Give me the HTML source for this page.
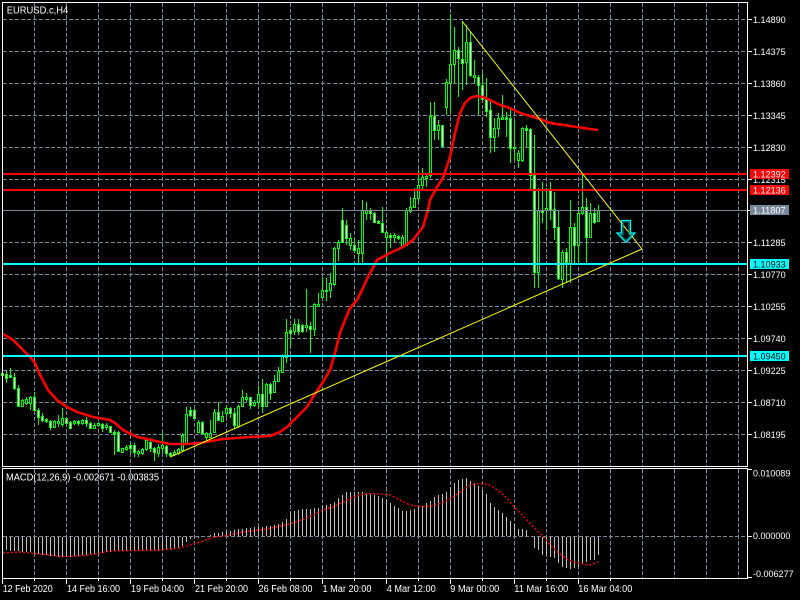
<!DOCTYPE html>
<html><head><meta charset="utf-8"><style>
html,body{margin:0;padding:0;background:#000;width:800px;height:600px;overflow:hidden}
svg{display:block}
text{font-family:"Liberation Sans",sans-serif}
</style></head><body>
<svg width="800" height="600" viewBox="0 0 800 600" xmlns="http://www.w3.org/2000/svg">
<rect width="800" height="600" fill="#000"/>
<!-- grid -->
<g stroke="#778899" stroke-width="1" stroke-dasharray="4 2" fill="none" shape-rendering="crispEdges">
<path d="M34.5 3V466M66.5 3V466M98.5 3V466M130.5 3V466M162.5 3V466M194.5 3V466M226.5 3V466M258.5 3V466M290.5 3V466M322.5 3V466M354.5 3V466M386.5 3V466M418.5 3V466M450.5 3V466M482.5 3V466M514.5 3V466M546.5 3V466M578.5 3V466M610.5 3V466M642.5 3V466M674.5 3V466M706.5 3V466M738.5 3V466"/>
<path d="M34.5 469V578M66.5 469V578M98.5 469V578M130.5 469V578M162.5 469V578M194.5 469V578M226.5 469V578M258.5 469V578M290.5 469V578M322.5 469V578M354.5 469V578M386.5 469V578M418.5 469V578M450.5 469V578M482.5 469V578M514.5 469V578M546.5 469V578M578.5 469V578M610.5 469V578M642.5 469V578M674.5 469V578M706.5 469V578M738.5 469V578"/>
<path d="M3 19.5H747M3 51.5H747M3 83.5H747M3 115.5H747M3 147.5H747M3 179.5H747M3 210.5H747M3 242.5H747M3 274.5H747M3 306.5H747M3 338.5H747M3 370.5H747M3 402.5H747M3 434.5H747"/>
<path d="M3 536.5H747"/>
</g>
<!-- candle wicks -->
<path fill="none" stroke="#00ff00" stroke-width="1" shape-rendering="crispEdges" d="M2.5 372V376M6.5 370V383M10.5 368V378M14.5 373V390M18.5 385V407M22.5 399V407M26.5 397V405M30.5 396V410M34.5 392V410M38.5 408V425M42.5 413V422M46.5 418V423M50.5 420V430M54.5 420V428M58.5 415V427M62.5 408V427M66.5 417V424M70.5 421V429M74.5 420V425M78.5 420V426M82.5 419V425M86.5 417V427M90.5 422V429M94.5 423V429M98.5 422V427M102.5 423V432M106.5 423V430M110.5 426V433M114.5 430V455M118.5 431V452M122.5 448V453M126.5 445V451M130.5 442V453M134.5 443V457M138.5 450V457M142.5 448V455M146.5 438V451M150.5 438V452M154.5 447V461M158.5 444V457M162.5 433V453M166.5 445V457M170.5 452V457M174.5 450V456M178.5 448V455M182.5 433V452M186.5 407V445M190.5 407V417M194.5 409V419M198.5 420V433M202.5 421V435M206.5 432V442M210.5 420V438M214.5 409V433M218.5 402V420M222.5 411V422M226.5 405V417M230.5 407V418M234.5 408V428M238.5 405V428M242.5 390V407M246.5 393V402M250.5 397V409M254.5 400V407M258.5 386V407M262.5 379V413M266.5 383V407M270.5 383V400M274.5 375V393M278.5 367V382M282.5 354V373M286.5 319V363M290.5 327V347M294.5 319V335M298.5 319V335M302.5 324V333M306.5 289V332M310.5 322V353M314.5 303V336M318.5 293V307M322.5 277V298M326.5 278V301M330.5 273V298M334.5 247V286M338.5 240V261M342.5 208V243M346.5 220V245M350.5 233V250M354.5 238V253M358.5 240V263M362.5 200V263M366.5 202V220M370.5 208V220M374.5 212V223M378.5 220V224M382.5 207V233M386.5 230V263M390.5 233V248M394.5 233V242M398.5 235V240M402.5 235V248M406.5 208V245M410.5 197V213M414.5 188V208M418.5 170V203M422.5 168V190M426.5 175V187M430.5 102V178M434.5 102V140M438.5 120V140M442.5 125V147M446.5 79V115M450.5 14V113M454.5 27V83M458.5 47V97M462.5 22V90M466.5 25V85M470.5 32V77M474.5 60V84M478.5 75V115M482.5 73V100M486.5 78V117M490.5 100V153M494.5 118V152M498.5 113V137M502.5 95V120M506.5 112V137M510.5 107V163M514.5 120V160M518.5 150V168M522.5 127V162M526.5 125V147M530.5 128V190M534.5 135V288M538.5 188V288M542.5 182V223M546.5 188V230M550.5 182V220M554.5 192V240M558.5 210V280M562.5 250V288M566.5 248V283M570.5 200V283M574.5 223V263M578.5 207V263M582.5 173V215M586.5 198V263M590.5 203V238M594.5 208V224M598.5 205V222"/>
<!-- candle bodies outer -->
<path fill="#00ff00" shape-rendering="crispEdges" d="M1 373h3v3h-3zM5 374h3v5h-3zM9 375h3v3h-3zM13 377h3v12h-3zM17 388h3v19h-3zM21 400h3v7h-3zM25 399h3v5h-3zM29 397h3v7h-3zM33 397h3v14h-3zM37 410h3v8h-3zM41 416h3v5h-3zM45 419h3v3h-3zM49 421h3v7h-3zM53 421h3v7h-3zM57 421h3v3h-3zM61 418h3v7h-3zM65 418h3v6h-3zM69 422h3v7h-3zM73 421h3v3h-3zM77 421h3v3h-3zM81 420h3v4h-3zM85 420h3v4h-3zM89 423h3v6h-3zM93 425h3v4h-3zM97 423h3v3h-3zM101 424h3v5h-3zM105 425h3v3h-3zM109 426h3v7h-3zM113 432h3v3h-3zM117 432h3v20h-3zM121 448h3v5h-3zM125 447h3v3h-3zM129 445h3v4h-3zM133 445h3v8h-3zM137 451h3v3h-3zM141 449h3v5h-3zM145 440h3v10h-3zM149 442h3v7h-3zM153 448h3v5h-3zM157 447h3v7h-3zM161 445h3v4h-3zM165 446h3v8h-3zM169 453h3v3h-3zM173 452h3v3h-3zM177 449h3v5h-3zM181 435h3v16h-3zM185 414h3v30h-3zM189 410h3v6h-3zM193 410h3v9h-3zM197 422h3v11h-3zM201 422h3v12h-3zM205 433h3v5h-3zM209 433h3v5h-3zM213 412h3v21h-3zM217 412h3v9h-3zM221 416h3v6h-3zM225 408h3v6h-3zM229 408h3v6h-3zM233 413h3v13h-3zM237 406h3v21h-3zM241 397h3v10h-3zM245 397h3v3h-3zM249 397h3v9h-3zM253 402h3v4h-3zM257 394h3v9h-3zM261 394h3v13h-3zM265 384h3v23h-3zM269 384h3v10h-3zM273 381h3v12h-3zM277 371h3v11h-3zM281 356h3v17h-3zM285 332h3v26h-3zM289 330h3v4h-3zM293 324h3v8h-3zM297 324h3v8h-3zM301 325h3v7h-3zM305 325h3v3h-3zM309 326h3v4h-3zM313 304h3v26h-3zM317 304h3v3h-3zM321 290h3v8h-3zM325 290h3v2h-3zM329 283h3v8h-3zM333 248h3v37h-3zM337 242h3v7h-3zM341 220h3v23h-3zM345 225h3v14h-3zM349 238h3v8h-3zM353 245h3v6h-3zM357 248h3v6h-3zM361 210h3v44h-3zM365 210h3v4h-3zM369 211h3v3h-3zM373 213h3v10h-3zM377 221h3v3h-3zM381 223h3v10h-3zM385 232h3v6h-3zM389 235h3v3h-3zM393 235h3v3h-3zM397 236h3v3h-3zM401 237h3v11h-3zM405 210h3v36h-3zM409 207h3v5h-3zM413 198h3v10h-3zM417 185h3v14h-3zM421 177h3v9h-3zM425 176h3v3h-3zM429 116h3v60h-3zM433 116h3v15h-3zM437 125h3v6h-3zM441 125h3v22h-3zM445 82h3v26h-3zM449 64h3v20h-3zM453 50h3v15h-3zM457 50h3v9h-3zM461 59h3v5h-3zM465 42h3v21h-3zM469 42h3v34h-3zM473 75h3v3h-3zM477 77h3v9h-3zM481 85h3v15h-3zM485 99h3v13h-3zM489 110h3v28h-3zM493 128h3v10h-3zM497 118h3v11h-3zM501 117h3v3h-3zM505 117h3v3h-3zM509 118h3v31h-3zM513 147h3v2h-3zM517 153h3v8h-3zM521 128h3v33h-3zM525 128h3v3h-3zM529 129h3v47h-3zM533 175h3v98h-3zM537 210h3v63h-3zM541 210h3v3h-3zM545 208h3v3h-3zM549 190h3v21h-3zM553 209h3v19h-3zM557 227h3v52h-3zM561 252h3v28h-3zM565 252h3v11h-3zM569 227h3v37h-3zM573 227h3v19h-3zM577 213h3v33h-3zM581 207h3v7h-3zM585 207h3v31h-3zM589 213h3v25h-3zM593 213h3v10h-3zM597 210h3v12h-3z"/>
<!-- bear inner (white) -->
<path fill="#ffffff" shape-rendering="crispEdges" d="M6 375h1v3h-1zM10 376h1v1h-1zM14 378h1v10h-1zM18 389h1v17h-1zM34 398h1v12h-1zM38 411h1v6h-1zM42 417h1v3h-1zM46 420h1v1h-1zM50 422h1v5h-1zM66 419h1v4h-1zM70 423h1v5h-1zM78 422h1v1h-1zM86 421h1v2h-1zM90 424h1v4h-1zM102 425h1v3h-1zM110 427h1v5h-1zM114 433h1v1h-1zM118 433h1v18h-1zM130 446h1v2h-1zM134 446h1v6h-1zM150 443h1v5h-1zM154 449h1v3h-1zM166 447h1v6h-1zM170 454h1v1h-1zM190 411h1v4h-1zM194 411h1v7h-1zM202 423h1v10h-1zM218 413h1v7h-1zM230 409h1v4h-1zM234 414h1v11h-1zM250 398h1v7h-1zM262 395h1v11h-1zM270 385h1v8h-1zM290 331h1v2h-1zM298 325h1v6h-1zM302 326h1v5h-1zM310 327h1v2h-1zM342 221h1v21h-1zM346 226h1v12h-1zM354 246h1v4h-1zM370 212h1v1h-1zM374 214h1v8h-1zM378 222h1v1h-1zM382 224h1v8h-1zM390 236h1v1h-1zM398 237h1v1h-1zM434 117h1v13h-1zM442 126h1v20h-1zM458 51h1v7h-1zM462 60h1v3h-1zM470 43h1v32h-1zM478 78h1v7h-1zM482 86h1v13h-1zM486 100h1v11h-1zM490 111h1v26h-1zM506 118h1v1h-1zM510 119h1v29h-1zM526 129h1v1h-1zM530 130h1v45h-1zM534 176h1v96h-1zM542 211h1v1h-1zM550 191h1v19h-1zM554 210h1v17h-1zM558 228h1v50h-1zM566 253h1v9h-1zM574 228h1v17h-1zM586 208h1v29h-1zM594 214h1v8h-1z"/>
<!-- bull inner (black) -->
<path fill="#000000" shape-rendering="crispEdges" d="M2 374h1v1h-1zM22 401h1v5h-1zM26 400h1v3h-1zM30 398h1v5h-1zM54 422h1v5h-1zM58 422h1v1h-1zM62 419h1v5h-1zM74 422h1v1h-1zM82 421h1v2h-1zM94 426h1v2h-1zM98 424h1v1h-1zM106 426h1v1h-1zM122 449h1v3h-1zM126 448h1v1h-1zM138 452h1v1h-1zM142 450h1v3h-1zM146 441h1v8h-1zM158 448h1v5h-1zM162 446h1v2h-1zM174 453h1v1h-1zM178 450h1v3h-1zM182 436h1v14h-1zM186 415h1v28h-1zM198 423h1v9h-1zM206 434h1v3h-1zM210 434h1v3h-1zM214 413h1v19h-1zM222 417h1v4h-1zM226 409h1v4h-1zM238 407h1v19h-1zM242 398h1v8h-1zM246 398h1v1h-1zM254 403h1v2h-1zM258 395h1v7h-1zM266 385h1v21h-1zM274 382h1v10h-1zM278 372h1v9h-1zM282 357h1v15h-1zM286 333h1v24h-1zM294 325h1v6h-1zM306 326h1v1h-1zM314 305h1v24h-1zM318 305h1v1h-1zM322 291h1v6h-1zM330 284h1v6h-1zM334 249h1v35h-1zM338 243h1v5h-1zM350 239h1v6h-1zM358 249h1v4h-1zM362 211h1v42h-1zM366 211h1v2h-1zM386 233h1v4h-1zM394 236h1v1h-1zM402 238h1v9h-1zM406 211h1v34h-1zM410 208h1v3h-1zM414 199h1v8h-1zM418 186h1v12h-1zM422 178h1v7h-1zM426 177h1v1h-1zM430 117h1v58h-1zM438 126h1v4h-1zM446 83h1v24h-1zM450 65h1v18h-1zM454 51h1v13h-1zM466 43h1v19h-1zM474 76h1v1h-1zM494 129h1v8h-1zM498 119h1v9h-1zM502 118h1v1h-1zM518 154h1v6h-1zM522 129h1v31h-1zM538 211h1v61h-1zM546 209h1v1h-1zM562 253h1v26h-1zM570 228h1v35h-1zM578 214h1v31h-1zM582 208h1v5h-1zM590 214h1v23h-1zM598 211h1v10h-1z"/>
<!-- moving average -->
<polyline fill="none" stroke="#ff0000" stroke-width="2.6" stroke-linejoin="round" points="3,334 13,340 20,347 30,357 35,363 40,375 48,390 57,400 67,407 77,412 93,417 110,420 115,423 123,430 137,437 147,439 160,442 170,444 187,444 200,443 223,439 250,437 270,436 280,432 287,427 297,417 307,407 313,397 323,382 330,370 335,353 340,333 345,320 350,308 357,300 362,290 367,279 377,260 390,253 403,247 413,240 423,227 428,210 430,200 437,187 443,178 450,157 455,133 460,113 465,103 470,98 477,96 483,97 490,100 500,105 510,108 520,113 530,116 540,119 550,123 563,125 577,127 590,129 598,130"/>
<!-- horizontal lines -->
<g shape-rendering="crispEdges">
<rect x="3" y="173" width="744" height="2" fill="#ff0000"/>
<rect x="3" y="189" width="744" height="2" fill="#ff0000"/>
<rect x="3" y="210" width="744" height="1" fill="#778899"/>
<rect x="3" y="263" width="744" height="2" fill="#00ffff"/>
<rect x="3" y="355" width="744" height="2" fill="#00ffff"/>
</g>
<!-- trend lines -->
<g stroke="#ffff00" stroke-width="1" fill="none">
<line x1="462" y1="21" x2="642" y2="249"/>
<line x1="170" y1="457" x2="642" y2="249"/>
</g>
<!-- arrow -->
<polygon points="621.5,220.5 630.5,220.5 630.5,233 635,233 626,242.5 617,233 621.5,233" fill="none" stroke="#00ffff" stroke-width="1.2"/>
<polygon points="623,222 629,222 629,234.5 632,234.5 626,240.5 620,234.5 623,234.5" fill="none" stroke="#008b8b" stroke-width="1"/>
<!-- MACD histogram -->
<path fill="none" stroke="#c0c0c0" stroke-width="1" shape-rendering="crispEdges" d="M2.5 537V550M6.5 537V550M10.5 537V551M14.5 537V551M18.5 537V551M22.5 537V552M26.5 537V552M30.5 537V552M34.5 537V553M38.5 537V554M42.5 537V555M46.5 537V555M50.5 537V556M54.5 537V556M58.5 537V557M62.5 537V557M66.5 537V557M70.5 537V557M74.5 537V556M78.5 537V556M82.5 537V555M86.5 537V555M90.5 537V554M94.5 537V554M98.5 537V553M102.5 537V553M106.5 537V552M110.5 537V552M114.5 537V551M118.5 537V551M122.5 537V551M126.5 537V551M130.5 537V551M134.5 537V551M138.5 537V551M142.5 537V551M146.5 537V551M150.5 537V551M154.5 537V551M158.5 537V551M162.5 537V551M166.5 537V550M170.5 537V550M174.5 537V549M178.5 537V548M182.5 537V546M186.5 537V542M190.5 537V539M194.5 537V538M198.5 537V538M210.5 536V535M214.5 536V533M218.5 536V533M222.5 536V532M226.5 536V531M230.5 536V531M234.5 536V530M238.5 536V529M242.5 536V529M246.5 536V528M250.5 536V528M254.5 536V527M258.5 536V527M262.5 536V527M266.5 536V526M270.5 536V526M274.5 536V525M278.5 536V524M282.5 536V522M286.5 536V519M290.5 536V512M294.5 536V511M298.5 536V510M302.5 536V509M306.5 536V509M310.5 536V509M314.5 536V508M318.5 536V508M322.5 536V506M326.5 536V505M330.5 536V504M334.5 536V502M338.5 536V498M342.5 536V495M346.5 536V492M350.5 536V492M354.5 536V492M358.5 536V492M362.5 536V492M366.5 536V493M370.5 536V494M374.5 536V495M378.5 536V496M382.5 536V498M386.5 536V500M390.5 536V503M394.5 536V506M398.5 536V508M402.5 536V511M406.5 536V511M410.5 536V510M414.5 536V509M418.5 536V507M422.5 536V506M426.5 536V503M430.5 536V501M434.5 536V497M438.5 536V495M442.5 536V494M446.5 536V492M450.5 536V487M454.5 536V483M458.5 536V480M462.5 536V479M466.5 536V478M470.5 536V481M474.5 536V483M478.5 536V486M482.5 536V490M486.5 536V494M490.5 536V503M494.5 536V507M498.5 536V510M502.5 536V513M506.5 536V517M510.5 536V521M514.5 536V524M518.5 536V529M522.5 536V529M526.5 536V530M534.5 537V548M538.5 537V550M542.5 537V555M546.5 537V555M550.5 537V557M554.5 537V558M558.5 537V563M562.5 537V567M566.5 537V568M570.5 537V569M574.5 537V568M578.5 537V567M582.5 537V563M586.5 537V562M590.5 537V560M594.5 537V560M598.5 537V555"/>
<!-- MACD signal -->
<polyline fill="none" stroke="#ff0000" stroke-width="1.4" stroke-dasharray="2 2" points="3,553 20,552 50,555 60,556.5 70,556.5 90,555 110,551 160,550 180,548 190,545 200,542 213,537.5 227,535.5 243,532 263,529.5 277,527 293,523 307,518 323,510 333,507 347,500 360,494.5 373,493.5 390,495 400,500 410,505 420,506.5 430,506.5 440,503.5 450,499 460,492 470,485 480,483.5 490,485 500,492 507,498 515,508 525,518 533,526.5 543,536.5 553,548 563,556.5 572,561.5 582,564 590,565 598,562"/>
<!-- frames -->
<g fill="none" stroke="#ffffff" stroke-width="1" shape-rendering="crispEdges">
<rect x="2.5" y="2.5" width="745" height="464"/>
<rect x="2.5" y="468.5" width="745" height="110"/>
<path d="M748 19.5h4M748 51.5h4M748 83.5h4M748 115.5h4M748 147.5h4M748 179.5h4M748 210.5h4M748 242.5h4M748 274.5h4M748 306.5h4M748 338.5h4M748 370.5h4M748 402.5h4M748 434.5h4M748 469.5h4M748 536.5h4M748 577.5h4"/>
<path d="M2.5 579v5M66.5 579v5M130.5 579v5M194.5 579v5M258.5 579v5M322.5 579v5M386.5 579v5M450.5 579v5M514.5 579v5M578.5 579v5M34.5 579v2M98.5 579v2M162.5 579v2M226.5 579v2M290.5 579v2M354.5 579v2M418.5 579v2M482.5 579v2M546.5 579v2M610.5 579v2"/>
</g>
<!-- price axis labels -->
<g fill="#ffffff" font-size="9.5">
<text x="753" y="23" textLength="32.7" lengthAdjust="spacingAndGlyphs">1.14890</text>
<text x="753" y="55" textLength="32.7" lengthAdjust="spacingAndGlyphs">1.14375</text>
<text x="753" y="87" textLength="32.7" lengthAdjust="spacingAndGlyphs">1.13860</text>
<text x="753" y="119" textLength="32.7" lengthAdjust="spacingAndGlyphs">1.13345</text>
<text x="753" y="151" textLength="32.7" lengthAdjust="spacingAndGlyphs">1.12830</text>
<text x="753" y="183" textLength="32.7" lengthAdjust="spacingAndGlyphs">1.12315</text>
<text x="753" y="214" textLength="32.7" lengthAdjust="spacingAndGlyphs">1.11800</text>
<text x="753" y="246" textLength="32.7" lengthAdjust="spacingAndGlyphs">1.11285</text>
<text x="753" y="278" textLength="32.7" lengthAdjust="spacingAndGlyphs">1.10770</text>
<text x="753" y="310" textLength="32.7" lengthAdjust="spacingAndGlyphs">1.10255</text>
<text x="753" y="342" textLength="32.7" lengthAdjust="spacingAndGlyphs">1.09740</text>
<text x="753" y="374" textLength="32.7" lengthAdjust="spacingAndGlyphs">1.09225</text>
<text x="753" y="406" textLength="32.7" lengthAdjust="spacingAndGlyphs">1.08710</text>
<text x="753" y="438" textLength="32.7" lengthAdjust="spacingAndGlyphs">1.08195</text>
<text x="753" y="476.5" textLength="37.3" lengthAdjust="spacingAndGlyphs">0.010089</text>
<text x="753" y="539" textLength="37.3" lengthAdjust="spacingAndGlyphs">0.000000</text>
<text x="753" y="577" textLength="40.6" lengthAdjust="spacingAndGlyphs">-0.006277</text>
</g>
<!-- price boxes -->
<g shape-rendering="crispEdges">
<rect x="750" y="169" width="39" height="10" fill="#ff0000"/>
<rect x="750" y="185" width="39" height="10" fill="#ff0000"/>
<rect x="750" y="205" width="39" height="10" fill="#778899"/>
<rect x="750" y="259" width="39" height="10" fill="#00ffff"/>
<rect x="750" y="351" width="39" height="10" fill="#00ffff"/>
</g>
<g font-size="9.5">
<text x="753" y="177.5" fill="#ffffff" textLength="32.7" lengthAdjust="spacingAndGlyphs">1.12392</text>
<text x="753" y="193.5" fill="#ffffff" textLength="32.7" lengthAdjust="spacingAndGlyphs">1.12136</text>
<text x="753" y="213.5" fill="#ffffff" textLength="32.7" lengthAdjust="spacingAndGlyphs">1.11807</text>
<text x="753" y="267.5" fill="#000000" textLength="32.7" lengthAdjust="spacingAndGlyphs">1.10933</text>
<text x="753" y="359.5" fill="#000000" textLength="32.7" lengthAdjust="spacingAndGlyphs">1.09450</text>
</g>
<!-- time labels -->
<g fill="#ffffff" font-size="10">
<text x="2.7" y="592" textLength="50" lengthAdjust="spacingAndGlyphs">12 Feb 2020</text>
<text x="67" y="592" textLength="53" lengthAdjust="spacingAndGlyphs">14 Feb 16:00</text>
<text x="131" y="592" textLength="53" lengthAdjust="spacingAndGlyphs">19 Feb 04:00</text>
<text x="195" y="592" textLength="53" lengthAdjust="spacingAndGlyphs">21 Feb 20:00</text>
<text x="258.5" y="592" textLength="54" lengthAdjust="spacingAndGlyphs">26 Feb 08:00</text>
<text x="322.5" y="592" textLength="49" lengthAdjust="spacingAndGlyphs">1 Mar 20:00</text>
<text x="386.7" y="592" textLength="49" lengthAdjust="spacingAndGlyphs">4 Mar 12:00</text>
<text x="450.3" y="592" textLength="49" lengthAdjust="spacingAndGlyphs">9 Mar 00:00</text>
<text x="514.3" y="592" textLength="54" lengthAdjust="spacingAndGlyphs">11 Mar 16:00</text>
<text x="578.3" y="592" textLength="54" lengthAdjust="spacingAndGlyphs">16 Mar 04:00</text>
</g>
<!-- titles -->
<g fill="#ffffff" font-size="10">
<text x="6.7" y="13.5" textLength="61.6" lengthAdjust="spacingAndGlyphs">EURUSD.c,H4</text>
<text x="6" y="480.5" textLength="153" lengthAdjust="spacingAndGlyphs">MACD(12,26,9) -0.002671 -0.003835</text>
</g>
</svg>
</body></html>
